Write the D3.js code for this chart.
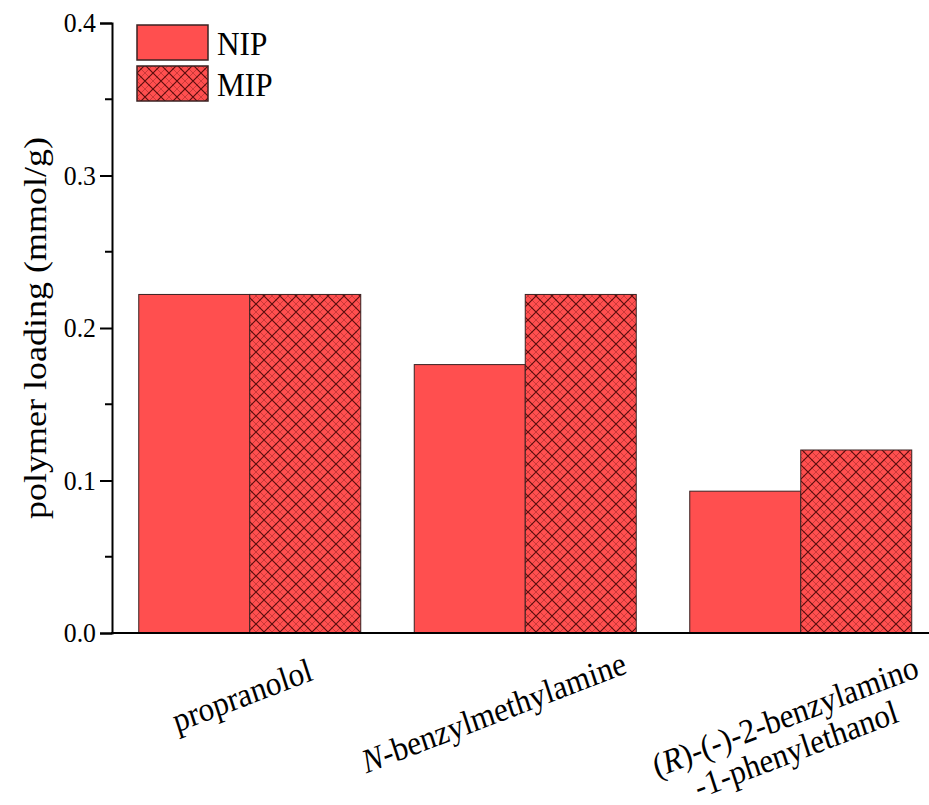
<!DOCTYPE html>
<html>
<head>
<meta charset="utf-8">
<script src="https://cdn.jsdelivr.net/npm/d3@7"></script>
<style>
  body { margin: 0; background: #fff; }
  svg { display: block; }
</style>
</head>
<body>
<svg id="chart" width="929" height="805"></svg>
<script>
// data
const categories = ["propranolol", "N-benzylmethylamine", "(R)-(-)-2-benzylamino -1-phenylethanol"];
const series = ["NIP", "MIP"];
const nipValues = [0.222, 0.176, 0.093];
const mipValues = [0.222, 0.222, 0.120];
const yTicks = [0, 0.1, 0.2, 0.3, 0.4];

// label pieces: [text, italic?] per line
const labelLines = [
  [[["propranolol", false]]],
  [[["N", true], ["-benzylmethylamine", false]]],
  [[["(", false], ["R", true], [")-(-)-2-benzylamino", false]], [["-1-phenylethanol", false]]]
];

// layout: where each rotated label's first baseline is centred, relative to the category centre
const labelShift = [[-4, 706], [-28, 723], [-12, 727]];
const squeeze = 0.92; // the source figure's text is a bit narrow
const serif = "'Liberation Serif', 'Times New Roman', Times, serif";

const svg = d3.select("#chart");
const barFill = "#ff4f4f";

// crosshatch for MIP
const defs = svg.append("defs");
const pat = defs.append("pattern")
  .attr("id", "hatch")
  .attr("patternUnits", "userSpaceOnUse")
  .attr("width", 16)
  .attr("height", 16);
pat.append("rect").attr("width", 16).attr("height", 16).attr("fill", barFill);
pat.append("path")
  .attr("d", "M-4,4 L4,-4 M0,8 L8,0 M8,16 L16,8 M12,20 L20,12 M-4,12 L4,20 M0,8 L8,16 M8,0 L16,8 M12,-4 L20,4")
  .attr("stroke", "#bf3434")
  .attr("stroke-width", 0.8);
pat.append("path")
  .attr("d", "M0,0 L16,16 M-8,8 L8,24 M8,-8 L24,8 M16,0 L0,16 M8,-8 L-8,8 M24,8 L8,24")
  .attr("stroke", "#5a0c0c")
  .attr("stroke-width", 1.15);

const x0 = 112, yBottom = 633, yTop = 23;

const x = d3.scaleBand()
  .domain(categories)
  .range([x0, x0 + 3 * 275.5])
  .padding(0);

const xSub = d3.scaleBand()
  .domain(series)
  .range([0, x.bandwidth()])
  .paddingInner(0)
  .paddingOuter(0.241);

const y = d3.scaleLinear().domain([0, 0.4]).range([yBottom, yTop]);

const rows = categories.map((c, i) => ({ cat: c, NIP: nipValues[i], MIP: mipValues[i] }));

// bars
const g = svg.append("g");
rows.forEach(r => {
  series.forEach(s => {
    g.append("rect")
      .attr("x", x(r.cat) + xSub(s))
      .attr("y", y(r[s]))
      .attr("width", xSub.bandwidth())
      .attr("height", y(0) - y(r[s]))
      .attr("fill", s === "NIP" ? barFill : "url(#hatch)")
      .attr("stroke", "#3a2222")
      .attr("stroke-width", 1);
  });
});

// y axis
const yAxis = d3.axisLeft(y)
  .tickValues(yTicks)
  .tickFormat(d3.format(".1f"))
  .tickSize(12)
  .tickPadding(5);
const ya = svg.append("g").attr("transform", `translate(${x0},0)`).call(yAxis);
ya.attr("font-family", serif);
ya.select(".domain").attr("stroke", "#000").attr("stroke-width", 2);
ya.selectAll(".tick line").attr("stroke", "#000").attr("stroke-width", 2);
ya.selectAll(".tick text")
  .style("font-family", serif)
  .attr("font-size", 28)
  .attr("fill", "#000")
  .attr("x", -16 / squeeze)
  .attr("transform", `scale(${squeeze},1)`);

// minor ticks
const minor = d3.range(0.05, 0.4, 0.1);
ya.selectAll(".minor").data(minor).join("line")
  .attr("class", "minor")
  .attr("x1", -7).attr("x2", 0)
  .attr("y1", d => y(d)).attr("y2", d => y(d))
  .attr("stroke", "#000").attr("stroke-width", 2);

// x axis baseline
svg.append("line")
  .attr("x1", x0 - 1).attr("x2", 929)
  .attr("y1", yBottom).attr("y2", yBottom)
  .attr("stroke", "#000").attr("stroke-width", 2);

// y title
svg.append("text")
  .attr("transform", `translate(46,${(yTop + yBottom) / 2}) scale(0.9,1) rotate(-90)`)
  .attr("text-anchor", "middle")
  .style("font-family", serif)
  .attr("font-size", 36)
  .text("polymer loading (mmol/g)");

// x labels, rotated
const lineGap = 35;
categories.forEach((c, i) => {
  const lines = labelLines[i];
  const cx = x(c) + x.bandwidth() / 2 + labelShift[i][0];
  const t = svg.append("text")
    .attr("transform", `translate(${cx},${labelShift[i][1]}) scale(${squeeze},1) rotate(-19.5)`)
    .attr("text-anchor", "middle")
    .style("font-family", serif)
    .attr("font-size", 34);
  lines.forEach((parts, li) => {
    const ln = t.append("tspan")
      .attr("x", 0)
      .attr("dy", li === 0 ? 0 : lineGap);
    parts.forEach(p => {
      ln.append("tspan")
        .style("font-style", p[1] ? "italic" : "normal")
        .text(p[0]);
    });
  });
});

// legend
const leg = svg.append("g").attr("transform", "translate(137,25)");
series.forEach((s, i) => {
  leg.append("rect")
    .attr("x", 0).attr("y", i * 41)
    .attr("width", 71).attr("height", 35)
    .attr("fill", s === "NIP" ? barFill : "url(#hatch)")
    .attr("stroke", "#3a2222").attr("stroke-width", 1.5);
  leg.append("text")
    .attr("transform", `translate(80,${i * 41 + 30}) scale(${squeeze},1)`)
    .style("font-family", serif)
    .attr("font-size", 34)
    .text(s);
});
</script>
</body>
</html>
